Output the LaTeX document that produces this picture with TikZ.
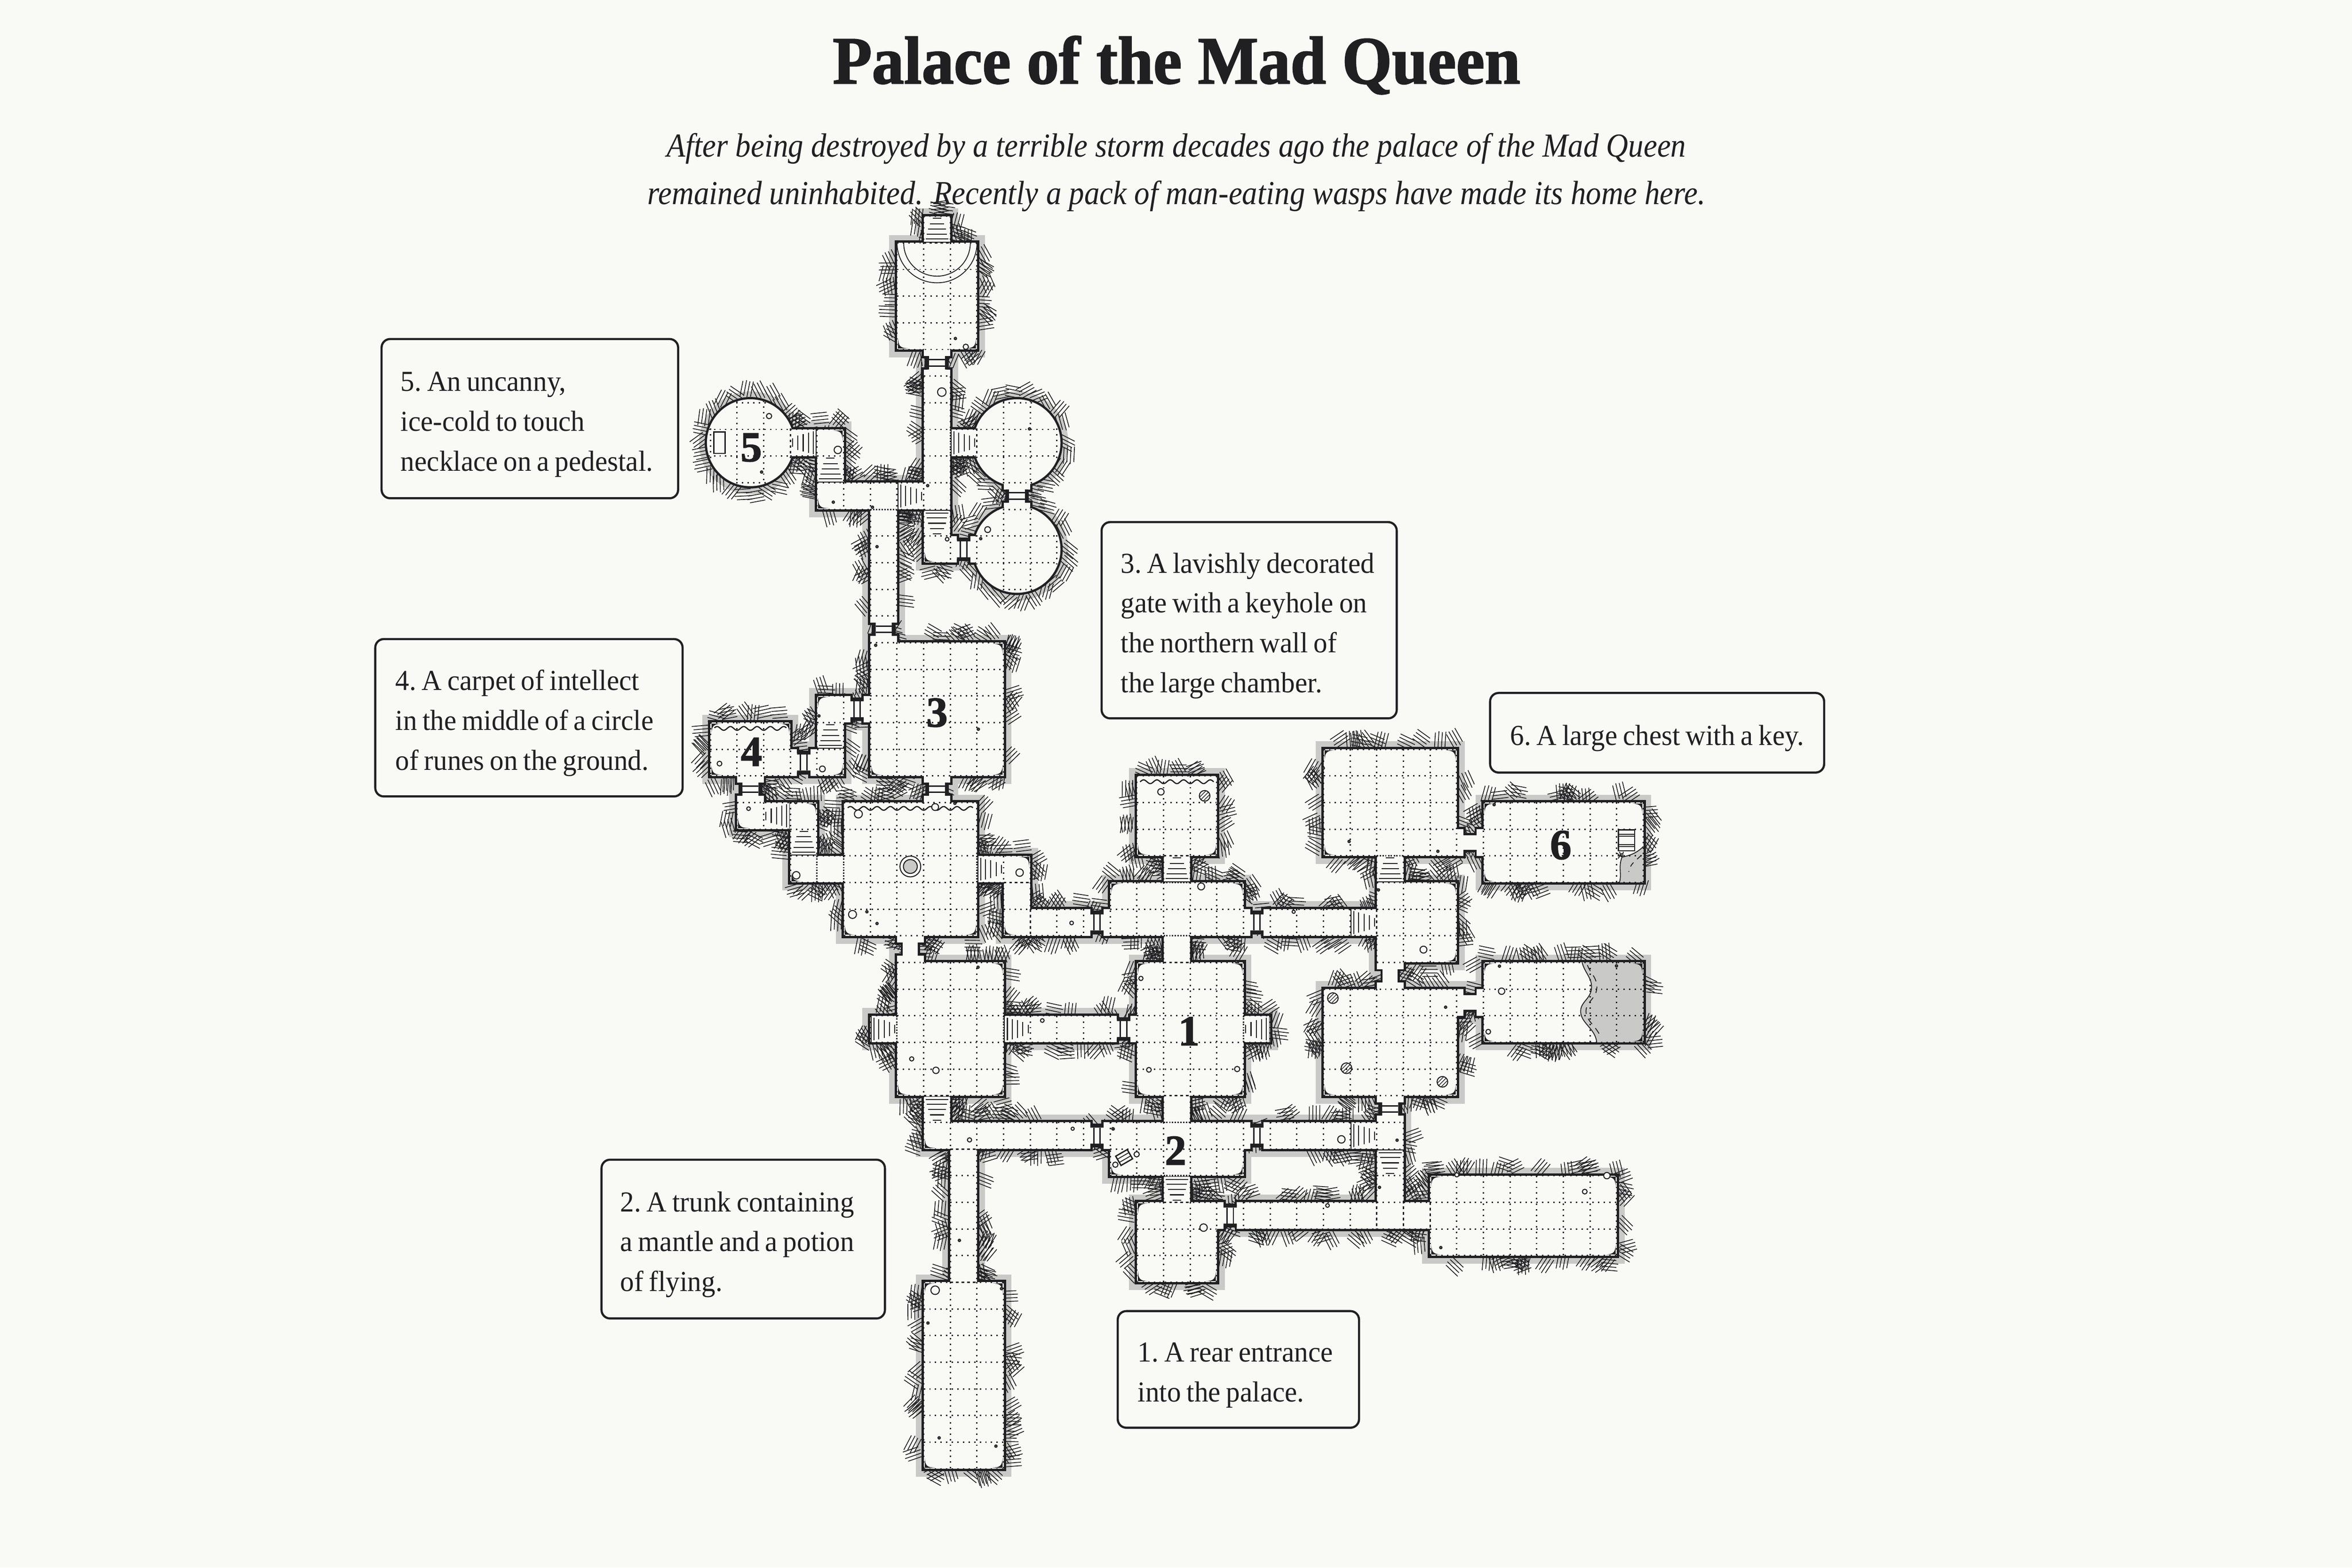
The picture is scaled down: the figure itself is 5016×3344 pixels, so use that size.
\documentclass[tikz,border=0pt]{standalone}
\usepackage{fontspec}
\setmainfont{Liberation Serif}
\newfontfamily\heavyfont[UprightFont=* Bold,FakeBold=1.6]{Liberation Serif}
\newfontfamily\notefont[FakeStretch=0.96,WordSpace=0.8,PunctuationSpace=0]{Liberation Serif}
\usetikzlibrary{calc}
\definecolor{paper}{HTML}{F9FAF6}
\definecolor{ink}{HTML}{202022}
\definecolor{stone}{HTML}{C9CAC8}

% Um trecho de hachura
\newcommand{\hatchbit}[2]{%
  \pgfmathsetmacro\ang{rnd*180}%
  \draw[hatch line,shift={(#1,#2)},rotate=\ang]
    (-.33,-.2) -- (.28,-.2) (-.27,-.07) -- (.33,-.07) (-.33,.06) -- (.31,.06) (-.25,.19) -- (.33,.19);%
}
\newcommand{\hatchrect}[4]{%
  \pgfmathsetmacro\nx{int(ceil((#3-#1)*2.2))}%
  \pgfmathsetmacro\ny{int(ceil((#4-#2)*2.2))}%
  \foreach \k in {1,...,\nx}{%
    \pgfmathsetmacro\ha{#1+(#3-#1)*rnd}\pgfmathsetmacro\hb{#2-.16-.26*rnd}\hatchbit{\ha}{\hb}%
    \pgfmathsetmacro\ha{#1+(#3-#1)*rnd}\pgfmathsetmacro\hb{#4+.16+.26*rnd}\hatchbit{\ha}{\hb}%
  }%
  \foreach \k in {1,...,\ny}{%
    \pgfmathsetmacro\ha{#1-.16-.26*rnd}\pgfmathsetmacro\hb{#2+(#4-#2)*rnd}\hatchbit{\ha}{\hb}%
    \pgfmathsetmacro\ha{#3+.16+.26*rnd}\pgfmathsetmacro\hb{#2+(#4-#2)*rnd}\hatchbit{\ha}{\hb}%
  }%
}
\newcommand{\hatchround}[2]{%
  \foreach \a in {0,14,...,346}{%
    \pgfmathsetmacro\ha{#1+(1.85+.2*rnd)*cos(\a)}\pgfmathsetmacro\hb{#2+(1.85+.2*rnd)*sin(\a)}\hatchbit{\ha}{\hb}%
  }%
}
\newcommand{\gridrect}[4]{%
  \foreach \i in {#1,...,#3} \draw[grid dots] (\i,#2) -- (\i,#4);
  \foreach \j in {#2,...,#4} \draw[grid dots] (#1,\j) -- (#3,\j);
}
\newcommand{\gridround}[2]{%
  \begin{scope}
    \clip (#1,#2) circle (1.63);
    \foreach \d in {-1.5,-.5,.5,1.5} {
      \draw[grid dots] ({#1+\d},{#2-2}) -- ({#1+\d},{#2+2});
      \draw[grid dots] ({#1-2},{#2+\d}) -- ({#1+2},{#2+\d});
    }
  \end{scope}
}
% Passagens estreitadas
\newcommand{\passV}[3]{\Rd{#1-.5}{#2-.5}{#1+.5}{#2-.25}\Rd{#1-#3}{#2-.25}{#1+#3}{#2+.25}\Rd{#1-.5}{#2+.25}{#1+.5}{#2+.5}}
\newcommand{\passH}[3]{\Rd{#1-.5}{#2-.5}{#1-.25}{#2+.5}\Rd{#1-.25}{#2-#3}{#1+.25}{#2+#3}\Rd{#1+.25}{#2-.5}{#1+.5}{#2+.5}}
% Planta: salas, corredores, portas
\newcommand{\palaceplan}{%
  \R{0}{0}{3}{4}\R{1}{-1}{2}{0}\R{1}{5}{2}{11}\R{1}{11}{2}{12}\R{2}{7}{3}{8}%
  \R{-3}{9}{1}{10}\R{-3}{7}{-2}{9}\R{-4}{7}{-3}{8}\R{-1}{10}{0}{14}\R{-1}{15}{4}{20}%
  \R{-3}{17}{-2}{20}\R{-7}{18}{-4}{20}\R{-6}{21}{-4}{22}\R{-4}{21}{-3}{24}\R{-3}{23}{-2}{24}%
  \R{-2}{21}{3}{26}\R{3}{23}{5}{24}\R{4}{24}{5}{26}\R{5}{25}{7}{26}\R{8}{24}{13}{26}%
  \R{10}{23}{11}{24}\R{9}{20}{12}{23}\R{0}{27}{4}{32}\R{-1}{29}{0}{30}\R{4}{29}{8}{30}%
  \R{9}{27}{13}{32}\R{10}{26}{11}{27}\R{13}{29}{14}{30}\R{10}{32}{11}{33}\R{14}{25}{18}{26}%
  \R{18}{24}{21}{27}\R{18}{23}{19}{24}\R{16}{19}{21}{23}\R{16}{28}{21}{32}\R{22}{21}{28}{24}%
  \R{22}{27}{28}{30}\R{8}{33}{13}{35}\R{1}{33}{7}{34}\R{14}{33}{18}{34}\R{18}{33}{19}{37}%
  \R{10}{35}{11}{36}\R{9}{36}{12}{39}\R{13}{36}{18}{37}\R{19}{36}{20}{37}\R{20}{35}{27}{38}%
  \R{1}{32}{2}{33}\R{2}{34}{3}{39}\R{1}{39}{4}{46}%
  \C{4.5}{7.5}\C{4.5}{11.5}\C{-5.5}{7.5}%
  \foreach \x/\y in {1.5/4.5,-.5/14.5,4.5/9.5,-5.5/20.5,1.5/20.5,18.5/32.5} {\passV{\x}{\y}{.36}}%
  \foreach \x/\y in {2.5/11.5,-1.5/17.5,-3.5/19.5,7.5/25.5,13.5/25.5,8.5/29.5,7.5/33.5,13.5/33.5,12.5/36.5} {\passH{\x}{\y}{.36}}%
  \foreach \x/\y in {.5/26.5,18.5/27.5} {\passV{\x}{\y}{.28}}%
  \foreach \x/\y in {21.5/22.5,21.5/28.5} {\passH{\x}{\y}{.28}}%
}
\newcommand{\stairs}[3]{%
  \begin{scope}[shift={(#1+.5,#2+.5)},rotate=#3]
    \draw[stair line] (-.16,-.42) -- (.16,-.42) (-.27,-.22) -- (.27,-.22) (-.33,-.02) -- (.33,-.02)
      (-.38,.18) -- (.38,.18) (-.43,.36) -- (.43,.36);
    \draw[thin line] (-.5,.47) -- (.5,.47);
  \end{scope}%
}
\newcommand{\notestrut}{\rule{0pt}{9.4pt}}

\begin{document}
\begin{tikzpicture}[
    x=0.005cm,y=-0.005cm,
    hatch line/.style={ink,line width=0.24pt},
    wall/.style={ink,line width=1.4pt},
    band/.style={stone,line width=4.8pt},
    grid dots/.style={ink,line width=0.42pt,dash pattern=on 0.42pt off 1.28pt},
    stair line/.style={ink,line width=0.3pt},
    thin line/.style={ink,line width=0.26pt},
    rubble/.style={ink,line width=0.3pt,fill=paper},
    rubble dot/.style={ink,line width=0.3pt,fill=ink!70},
    door bar/.style={ink,line width=0.4pt},
    room number/.style={font=\fontsize{13}{13}\selectfont\heavyfont,text=ink,inner sep=0pt},
    notebox/.style={draw=ink,line width=0.65pt,rounded corners=2.6pt,fill=paper,text=ink,align=flush left,
      inner xsep=0pt,inner ysep=0pt,font=\fontsize{8.8}{12.1}\selectfont\notefont},
]
\useasboundingbox (0,0) rectangle (5016,3344);
\fill[paper] (0,0) rectangle (5016,3344);

% Titulo
\node[anchor=base,text=ink,inner sep=0pt,font=\fontsize{20.5}{24}\selectfont\heavyfont\addfontfeature{FakeStretch=0.95}] (title) at (2509,178) {Palace of the Mad Queen};
\node[anchor=base,text=ink,inner sep=0pt,font=\fontsize{10.2}{12}\selectfont\itshape\addfontfeature{FakeStretch=0.91}] (introA) at (2509,335) {After being destroyed by a terrible storm decades ago the palace of the Mad Queen};
\node[anchor=base,text=ink,inner sep=0pt,font=\fontsize{10.2}{12}\selectfont\itshape\addfontfeature{FakeStretch=0.91}] (introB) at (2509,436) {remained uninhabited. Recently a pack of man-eating wasps have made its home here.};

% Notas
\node[notebox,minimum width=3.165cm,minimum height=1.70cm] (note5) at (1130,893) {\notestrut 5. An uncanny,\\ice-cold to touch\\necklace on a pedestal.\kern1.8pt};
\node[notebox,minimum width=3.28cm,minimum height=1.68cm] (note4) at (1128,1531) {\notestrut 4. A carpet of intellect\\in the middle of a circle\kern2.7pt\\of runes on the ground.};
\node[notebox,minimum width=3.15cm,minimum height=2.095cm] (note3) at (2664,1323) {\notestrut 3. A lavishly decorated\kern.9pt\\gate with a keyhole on\\the northern wall of\\the large chamber.};
\node[notebox,minimum width=3.565cm,minimum height=0.85cm] (note6) at (3534,1563) {\notestrut 6. A large chest with a key.};
\node[notebox,minimum width=3.025cm,minimum height=1.695cm] (note2) at (1585,2643) {\notestrut 2. A trunk containing\\a mantle and a potion\kern3.6pt\\of flying.};
\node[notebox,minimum width=2.575cm,minimum height=1.245cm] (note1) at (2641,2921) {\notestrut 1. A rear entrance\kern1.8pt\\into the palace.};

\begin{scope}[shift={(1913,518)},x=0.2845cm,y=-0.2845cm]
\pgfmathsetseed{4217}

% Faixa cinza
\def\R#1#2#3#4{\draw[band] (#1,#2) rectangle (#3,#4);}
\let\Rd\R
\def\C#1#2{\draw[band] (#1,#2) circle (1.63);}
\palaceplan

% Hachura da rocha
\let\R\hatchrect
\def\Rd#1#2#3#4{}
\let\C\hatchround
\palaceplan

% Paredes
\def\R#1#2#3#4{\draw[wall] (#1,#2) rectangle (#3,#4);}
\let\Rd\R
\def\C#1#2{\draw[wall] (#1,#2) circle (1.63);}
\palaceplan

% Piso
\def\R#1#2#3#4{\fill[paper] (#1,#2) rectangle (#3,#4);}
\let\Rd\R
\def\C#1#2{\fill[paper] (#1,#2) circle (1.63);}
\palaceplan

% Agua e entulho
\fill[stone] (25.7,27) .. controls (25.8,27.4) and (26.1,27.6) .. (26.05,28) .. controls (26,28.4) and (25.6,28.5) .. (25.65,28.9) .. controls (25.7,29.3) and (26.2,29.5) .. (26.25,30) -- (28,30) -- (28,27) -- cycle;
\fill[stone] (28,22.65) .. controls (27.7,22.95) and (27.4,23) .. (27.2,23.05) .. controls (27.05,23.4) and (27.2,23.7) .. (27.1,24) -- (28,24) -- cycle;

% Grade
\def\R#1#2#3#4{\gridrect{#1}{#2}{#3}{#4}}
\def\Rd#1#2#3#4{}
\let\C\gridround
\palaceplan

% Margem da agua
\draw[thin line] (25.7,27) .. controls (25.8,27.4) and (26.1,27.6) .. (26.05,28) .. controls (26,28.4) and (25.6,28.5) .. (25.65,28.9) .. controls (25.7,29.3) and (26.2,29.5) .. (26.25,30);
\draw[thin line,dashed,dash pattern=on 2pt off 1.6pt] (25.9,27.1) .. controls (26,27.4) and (26.3,27.6) .. (26.25,28) .. controls (26.2,28.4) and (25.8,28.5) .. (25.85,28.9) .. controls (25.9,29.2) and (26.2,29.4) .. (26.35,29.7);
\draw[thin line] (28,22.65) .. controls (27.7,22.95) and (27.4,23) .. (27.2,23.05) .. controls (27.05,23.4) and (27.2,23.7) .. (27.1,24);
\draw[thin line] (27.2,23.05) -- (27,22.9) (27.2,23.05) -- (27.1,22.85) (27.2,23.05) -- (27.25,22.85) (27.05,23.1) -- (27.2,22.9);
\draw[thin line,dashed,dash pattern=on 1.5pt off 1.5pt] (27.9,23) .. controls (27.7,23.2) and (27.5,23.3) .. (27.45,23.6);

% Escadas
\foreach \x/\y/\r in {1/-1/0,2/7/-90,-4/7/90,-3/8/0,0/9/-90,1/10/180,-3/18/0,-5/21/90,-4/22/0,
    3/23/-90,10/23/0,-1/29/-90,4/29/-90,13/29/90,17/25/-90,18/23/0,17/33/-90,18/34/180,10/35/180,1/32/180}
  \stairs{\x}{\y}{\r};

% Folhas de porta
\foreach \x/\y in {1.5/4.5,-.5/14.5,4.5/9.5,-5.5/20.5,1.5/20.5,18.5/32.5} {
  \fill[ink] ({\x-.42},{\y-.25}) rectangle ({\x-.3},{\y+.25}) ({\x+.3},{\y-.25}) rectangle ({\x+.42},{\y+.25});
  \draw[door bar] ({\x-.3},{\y-.12}) -- ({\x+.3},{\y-.12}) ({\x-.3},{\y+.12}) -- ({\x+.3},{\y+.12});
}
\foreach \x/\y in {2.5/11.5,-1.5/17.5,-3.5/19.5,7.5/25.5,13.5/25.5,8.5/29.5,7.5/33.5,13.5/33.5,12.5/36.5} {
  \fill[ink] ({\x-.25},{\y-.42}) rectangle ({\x+.25},{\y-.3}) ({\x-.25},{\y+.3}) rectangle ({\x+.25},{\y+.42});
  \draw[door bar] ({\x-.12},{\y-.3}) -- ({\x-.12},{\y+.3}) ({\x+.12},{\y-.3}) -- ({\x+.12},{\y+.3});
}

% Cantos
\foreach \x/\y/\sx/\sy in {0/4/1/-1,3/4/-1/-1,1/12/1/-1,-2/7/-1/1,-3/10/1/-1,4/15/-1/1,-1/20/1/-1,4/20/-1/-1,
    -2/26/1/-1,3/26/-1/-1,-7/20/1/-1,-4/18/-1/1,-7/18/1/1,-3/17/1/1,-2/20/-1/-1,-6/22/1/-1,-3/21/-1/1,-4/24/1/-1,5/23/-1/1,4/26/1/-1,
    9/23/1/-1,12/23/-1/-1,8/24/1/1,13/24/-1/1,4/27/-1/1,0/32/1/-1,4/32/-1/-1,9/27/1/1,13/27/-1/1,9/32/1/-1,13/32/-1/-1,
    16/19/1/1,21/19/-1/1,16/23/1/-1,21/24/-1/1,21/27/-1/-1,22/21/1/1,28/21/-1/1,22/24/1/-1,22/27/1/1,28/27/-1/1,22/30/1/-1,28/30/-1/-1,
    16/32/1/-1,21/32/-1/-1,8/35/1/-1,13/35/-1/-1,9/39/1/-1,12/39/-1/-1,9/36/1/1,20/35/1/1,27/35/-1/1,20/38/1/-1,27/38/-1/-1,
    1/39/1/1,4/39/-1/1,1/46/1/-1,4/46/-1/-1,1/34/1/-1}
  \fill[ink] ({\x+\sx*.04},{\y+\sy*.04}) -- ({\x+\sx*.42},{\y+\sy*.04}) .. controls ({\x+\sx*.12},{\y+\sy*.055}) and ({\x+\sx*.055},{\y+\sy*.12}) .. ({\x+\sx*.04},{\y+\sy*.42}) -- cycle;

% Cortinas onduladas
\foreach \xa/\xb/\yw in {-1.85/2.85/21.22,-6.85/-4.15/18.22,9.12/11.88/20.22}
  \draw[thin line,line width=0.36pt] plot[domain=\xa:\xb,samples=110,smooth] (\x,{\yw+.07*cos(\x*720)});

% Entulho: pontos e pedras
\foreach \x/\y in {2.19/3.59,1.15/9.11,3.14/11.1,4.97/6.98,-5.08/8.6,-2.39/9.73,-.92/9.92,-.75/11.4,-.8/15.1,3.05/18.25,2.17/21.03,
    -1.13/25.1,-.75/25.54,3.04/27.18,12.73/26.97,15.99/19.71,16.96/22.46,20.29/22.83,22.4/21.08,18.06/24.28,20.58/28.68,22.6/27.14,
    22.98/26.94,26.99/27.13,8.11/33.25,18.76/33.67,8.1/33.24,18.1/35.44,20.4/37.7,3.92/39.24,1.16/40.53,2.34/37.43,1.58/44.84,3.71/45.15,-2.93/17.75,-3.8/21}
  \draw[rubble dot] (\x,\y) circle (.045);
\foreach \x/\y/\r in {2.58/3.9/.1,1.68/5.6/.16,1.88/11.12/.07,3.4/10.76/.11,-4.8/6.5/.1,-2.22/7.77/.14,-2.8/19.74/.11,-1.45/21.43/.15,
    1.43/21.17/.13,-1.67/25.2/.15,4.6/23.63/.14,6.55/25.52/.07,9.9/20.6/.12,11.41/24.15/.13,9.15/27.6/.08,5.45/29.18/.07,.55/30.62/.08,
    1.46/31.05/.12,9.45/31.03/.09,12.76/31/.1,19.75/26.52/.13,14.88/25.1/.06,22.68/28.08/.12,22.18/29.6/.09,8.99/34.2/.1,8.19/34.59/.1,
    16.67/33.64/.14,2.72/33.66/.08,6.59/33.24/.06,16.15/36.12/.07,11.5/36.95/.14,21/34.97/.08,26.63/35/.12,25.8/35.6/.09,1.43/39.3/.16,
    -6.66/19.54/.09,-5.57/21.23/.07,-3.78/23.73/.14}
  \draw[rubble] (\x,\y) circle (\r);

% Pedras riscadas
\foreach \x/\y in {11.54/20.75,16.35/28.34,16.86/30.97,20.46/31.48} {
  \begin{scope}
    \clip (\x,\y) circle (.2);
    \foreach \d in {-.14,0,.14}
      \draw[thin line,line width=0.2pt] ({\x+\d-.3},{\y+.3}) -- ({\x+\d+.3},{\y-.3});
  \end{scope}
  \draw[rubble,fill=none] (\x,\y) circle (.2);
}

% Alvo, altar, pedestal, bau
\draw[rubble] (.5,23.4) circle (.39);
\draw[rubble,fill=stone] (.5,23.4) circle (.26);
\begin{scope}
  \clip (0,0) rectangle (3,2);
  \draw[thin line] (1.5,0) circle (1.5) (1.5,0) circle (1.25);
\end{scope}
\draw[thin line,line width=0.4pt] (-6.87,7.1) rectangle (-6.45,7.9);
\draw[rubble,line width=0.4pt] (27.06,22.02) rectangle (27.67,22.81);
\draw[thin line] (27.06,22.2) -- (27.67,22.2) (27.06,22.27) -- (27.67,22.27) (27.06,22.58) -- (27.67,22.58) (27.06,22.65) -- (27.67,22.65);
\begin{scope}[shift={(8.52,34.32)},rotate=30]
  \draw[rubble,line width=0.4pt] (-.25,-.2) rectangle (.25,.2);
  \draw[thin line] (-.25,-.07) -- (.25,-.07) (-.25,.07) -- (.25,.07);
\end{scope}

% Numeros
\node[room number] (roomA) at (10.95,29.58) {1};
\node[room number] (roomB) at (10.45,34.06) {2};
\node[room number] (roomC) at (1.5,17.63) {3};
\node[room number] (roomD) at (-5.46,19.1) {4};
\node[room number] (roomE) at (-5.47,7.68) {5};
\node[room number] (roomF) at (24.9,22.6) {6};
\end{scope}
\end{tikzpicture}
\end{document}
